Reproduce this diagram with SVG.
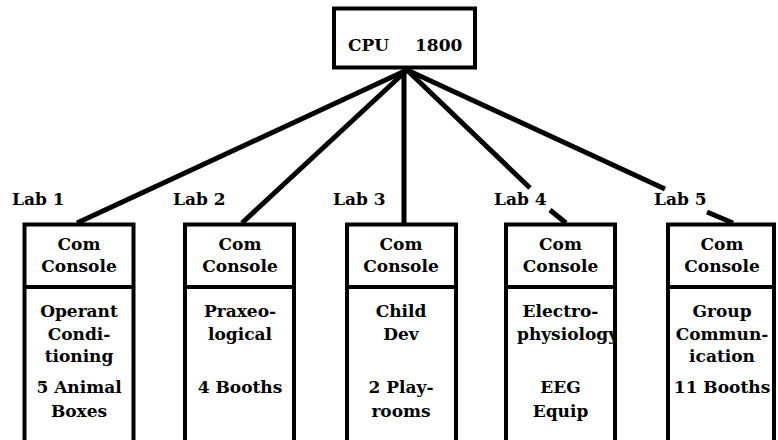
<svg xmlns="http://www.w3.org/2000/svg" width="778" height="440" viewBox="0 0 778 440">
<style>
text { font-family: "DejaVu Serif", "Liberation Serif", serif; font-weight: bold; font-size: 17px; fill: #000; }
.c { text-anchor: middle; }
.box { fill: none; stroke: #000; stroke-width: 4; }
.div { stroke: #000; stroke-width: 4; }
.wire { fill: none; stroke: #000; stroke-width: 5; stroke-linecap: butt; }
</style>
<defs>
<clipPath id="clip4"><rect x="506" y="289" width="109" height="160"/></clipPath>
</defs>
<rect width="778" height="440" fill="#fff"/>
<g id="connectors">
<path class="wire" d="M407,70 L77,223"/>
<path class="wire" d="M407,70 L242,223"/>
<path class="wire" d="M404,70 L404,223"/>
<path class="wire" d="M407,70 L530,188 M550,210 L566,223"/>
<path class="wire" d="M407,70 L665,189 M707,212 L733,223"/>
</g>
<g id="cpu">
<rect class="box" x="334" y="8.5" width="141" height="59" fill="#fff"/>
<text y="51"><tspan x="348">CPU</tspan><tspan x="415">1800</tspan></text>
</g>
<g id="lab1">
<text x="12" y="205">Lab 1</text>
<rect class="box" x="24.5" y="224.5" width="109" height="230"/>
<line class="div" x1="24.5" y1="287" x2="133.5" y2="287"/>
<text class="c" x="79" y="250">Com</text>
<text class="c" x="79" y="272">Console</text>
<text class="c" x="79" y="317">Operant</text>
<text class="c" x="79" y="340">Condi-</text>
<text class="c" x="79" y="362">tioning</text>
<text class="c" x="79" y="393">5 Animal</text>
<text class="c" x="79" y="417">Boxes</text>
</g>
<g id="lab2">
<text x="173" y="205">Lab 2</text>
<rect class="box" x="185" y="224.5" width="109" height="230"/>
<line class="div" x1="185" y1="287" x2="294" y2="287"/>
<text class="c" x="240" y="250">Com</text>
<text class="c" x="240" y="272">Console</text>
<text class="c" x="240" y="317">Praxeo-</text>
<text class="c" x="240" y="340">logical</text>
<text class="c" x="240" y="393">4 Booths</text>
</g>
<g id="lab3">
<text x="333" y="205">Lab 3</text>
<rect class="box" x="347" y="224.5" width="109" height="230"/>
<line class="div" x1="347" y1="287" x2="456" y2="287"/>
<text class="c" x="401" y="250">Com</text>
<text class="c" x="401" y="272">Console</text>
<text class="c" x="401" y="317">Child</text>
<text class="c" x="401" y="340">Dev</text>
<text class="c" x="401" y="393">2 Play-</text>
<text class="c" x="401" y="417">rooms</text>
</g>
<g id="lab4">
<text x="494" y="205">Lab 4</text>
<text class="c" x="560.5" y="250">Com</text>
<text class="c" x="560.5" y="272">Console</text>
<text class="c" x="560.5" y="317">Electro-</text>
<text x="517" y="340" clip-path="url(#clip4)">physiology</text>
<text class="c" x="560.5" y="393">EEG</text>
<text class="c" x="560.5" y="417">Equip</text>
<rect class="box" x="506" y="224.5" width="109" height="230"/>
<line class="div" x1="506" y1="287" x2="615" y2="287"/>
</g>
<g id="lab5">
<text x="654" y="205">Lab 5</text>
<rect class="box" x="668" y="224.5" width="106" height="230"/>
<line class="div" x1="668" y1="287" x2="774" y2="287"/>
<text class="c" x="722" y="250">Com</text>
<text class="c" x="722" y="272">Console</text>
<text class="c" x="722" y="317">Group</text>
<text class="c" x="722" y="340">Commun-</text>
<text class="c" x="722" y="362">ication</text>
<text class="c" x="722" y="393">11 Booths</text>
</g>
</svg>
